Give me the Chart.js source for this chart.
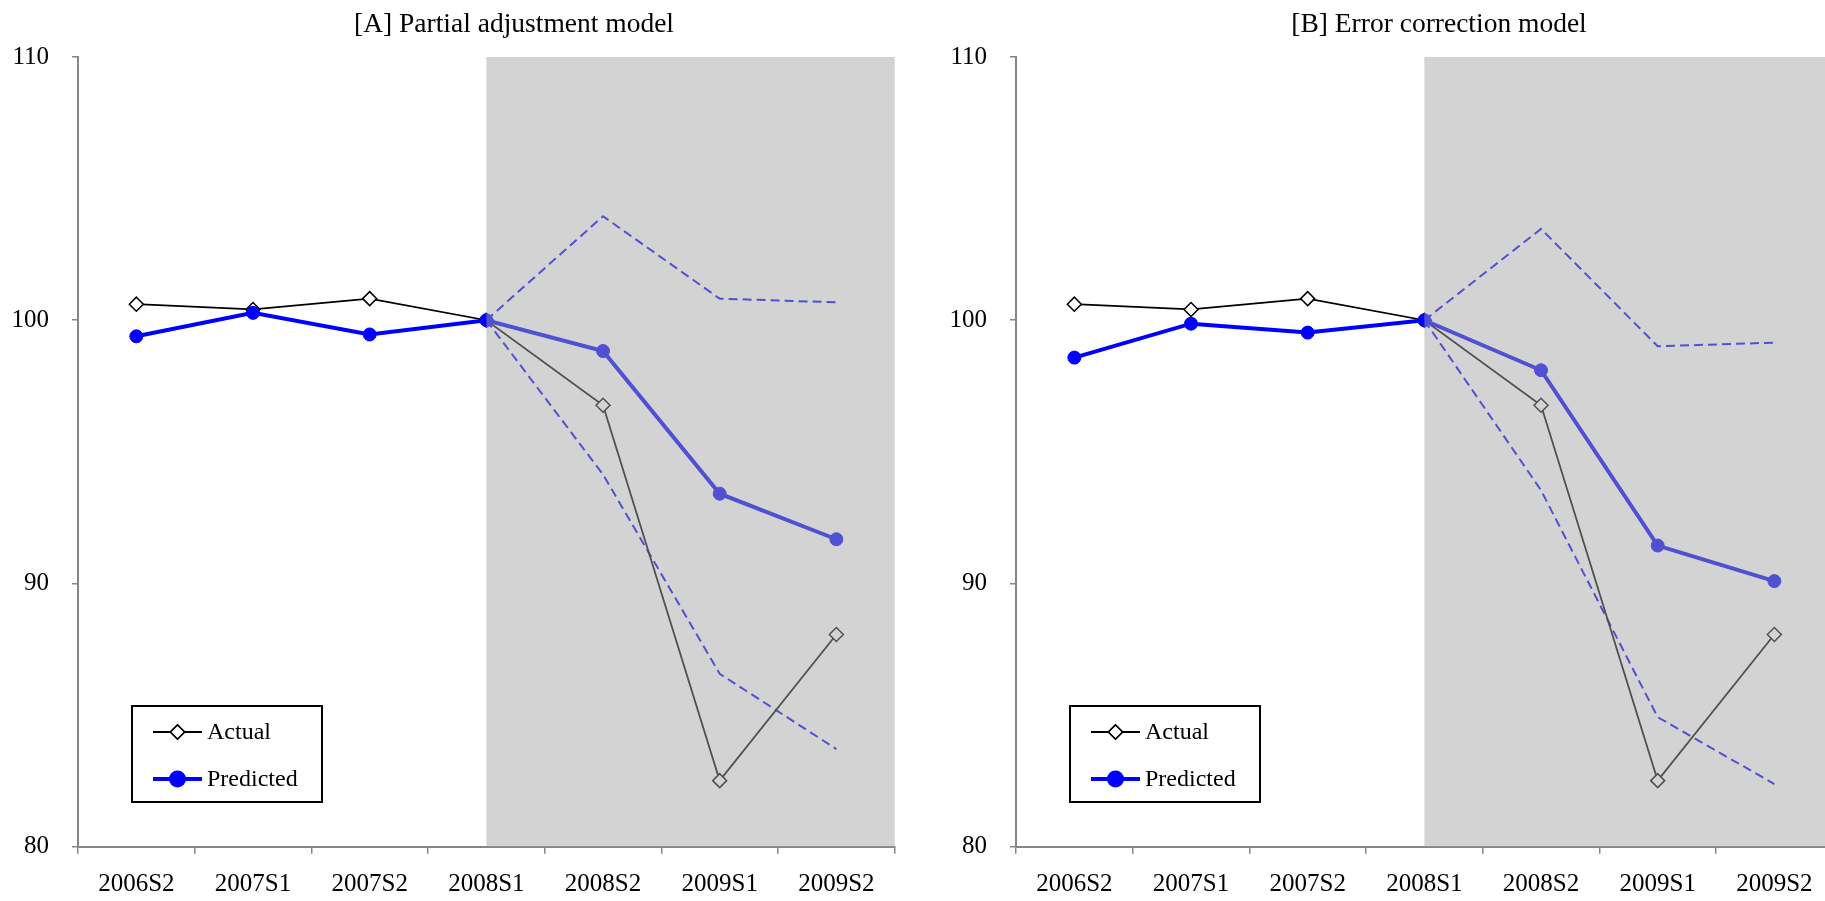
<!DOCTYPE html>
<html>
<head>
<meta charset="utf-8">
<script src="https://cdn.jsdelivr.net/npm/chart.js@4.4.0/dist/chart.umd.min.js"></script>
<style>
  html, body { margin: 0; padding: 0; background: #fff; }
  body { width: 1825px; height: 901px; position: relative; overflow: hidden; }
  canvas { position: absolute; top: 0; }
</style>
</head>
<body>
<canvas id="panelA" width="1028" height="901" style="left:0px"></canvas>
<canvas id="panelB" width="1002" height="901" style="left:938px"></canvas>
<script>
// semesters on the x axis
var semestres = ['2006S2', '2007S1', '2007S2', '2008S1', '2008S2', '2009S1', '2009S2'];
var inicioSombra = '2008S1';

// actual series (same in both panels)
var actual = [100.61, 100.41, 100.82, 100.0, 96.77, 82.51, 88.06];

// [A] partial adjustment model
var predA  = [99.39, 100.28, 99.46, 100.0, 98.83, 93.41, 91.68];
var altaA  = [null, null, null, 100.0, 103.95, 100.82, 100.68];
var bajaA  = [null, null, null, 100.0, 94.14, 86.57, 83.71];

// [B] error correction model
var predB  = [98.58, 99.87, 99.53, 100.0, 98.10, 91.44, 90.09];
var altaB  = [null, null, null, 100.0, 103.47, 99.01, 99.15];
var bajaB  = [null, null, null, 100.0, 93.54, 84.92, 82.38];

var yTicks = [80, 90, 100, 110];

Chart.defaults.font.family = '"Liberation Serif", "Times New Roman", serif';
Chart.defaults.font.size = 25;
Chart.defaults.color = '#000';

// gray translucent box over the forecast period
var sombra = {
    id: 'sombra',
    afterDatasetsDraw: function (chart) {
        var ctx = chart.ctx, area = chart.chartArea;
        var x0 = chart.scales.x.getPixelForValue(semestres.indexOf(inicioSombra));
        ctx.save();
        ctx.fillStyle = 'rgba(165,165,165,0.486)';
        ctx.fillRect(x0, area.top, area.right - x0, area.bottom - area.top);
        ctx.restore();
    }
};

// boxed legend in the lower left corner
var leyenda = {
    id: 'leyenda',
    afterDraw: function (chart) {
        var ctx = chart.ctx;
        ctx.save();
        ctx.fillStyle = '#fff';
        ctx.fillRect(132, 706, 190, 96);
        ctx.strokeStyle = '#000';
        ctx.lineWidth = 2;
        ctx.strokeRect(132, 706, 190, 96);

        var items = chart.data.datasets.filter(function (d) { return d.enLeyenda; });
        items.sort(function (a, b) { return a.enLeyenda - b.enLeyenda; });
        items.forEach(function (d, i) {
            var y = 732 + i * 47;
            ctx.strokeStyle = d.borderColor;
            ctx.lineWidth = d.borderWidth;
            ctx.beginPath();
            ctx.moveTo(153, y);
            ctx.lineTo(202, y);
            ctx.stroke();
            Chart.helpers.drawPoint(ctx, {
                pointStyle: d.pointStyle,
                radius: d.pointRadius,
                rotation: 0,
                borderWidth: d.pointBorderWidth
            }, 177.5, y);
            ctx.fillStyle = d.pointBackgroundColor;
            ctx.strokeStyle = d.pointBorderColor;
            ctx.lineWidth = d.pointBorderWidth;
            ctx.fill();
            ctx.stroke();
            ctx.fillStyle = '#000';
            ctx.font = '24px "Liberation Serif", serif';
            ctx.textBaseline = 'middle';
            ctx.fillText(d.label, 207, y + 1);
        });
        ctx.restore();
    }
};

function crearPanel(id, titulo, pred, alta, baja, margenDer) {
    var ctx = document.getElementById(id).getContext('2d');
    return new Chart(ctx, {
        type: 'line',
        data: {
            labels: semestres,
            datasets: [{
                label: 'Predicted',
                enLeyenda: 2,
                data: pred,
                borderColor: '#0000ff',
                borderWidth: 4,
                pointStyle: 'circle',
                pointRadius: 6.5,
                pointBorderWidth: 1,
                pointBackgroundColor: '#0000ff',
                pointBorderColor: '#0000ff',
                tension: 0
            }, {
                label: 'Actual',
                enLeyenda: 1,
                data: actual,
                borderColor: '#000000',
                borderWidth: 1.8,
                pointStyle: 'rectRot',
                pointRadius: 7,
                pointBorderWidth: 1.5,
                pointBackgroundColor: '#ffffff',
                pointBorderColor: '#000000',
                tension: 0
            }, {
                label: 'Upper',
                data: alta,
                borderColor: '#0000ff',
                borderWidth: 2,
                borderDash: [9, 5],
                pointRadius: 0,
                tension: 0
            }, {
                label: 'Lower',
                data: baja,
                borderColor: '#0000ff',
                borderWidth: 2,
                borderDash: [9, 5],
                pointRadius: 0,
                tension: 0
            }]
        },
        options: {
            responsive: false,
            animation: false,
            layout: { padding: 0 },
            plugins: {
                legend: { display: false },
                tooltip: { enabled: false },
                title: {
                    display: true,
                    text: titulo,
                    color: '#000',
                    font: { size: 27.5, weight: 'normal' },
                    padding: { top: 8, bottom: 16 }
                }
            },
            scales: {
                x: {
                    offset: true,
                    grid: {
                        offset: true,
                        drawOnChartArea: false,
                        drawTicks: true,
                        tickLength: 7,
                        color: '#868686',
                        lineWidth: 1.5
                    },
                    border: { color: '#868686', width: 2 },
                    ticks: { padding: 16, color: '#000', maxRotation: 0, autoSkip: false },
                    afterFit: function (s) { s.height = 54.3; }
                },
                y: {
                    min: 80,
                    max: 110,
                    afterBuildTicks: function (s) {
                        s.ticks = yTicks.map(function (v) { return { value: v }; });
                    },
                    grid: {
                        drawOnChartArea: false,
                        drawTicks: true,
                        tickLength: 6,
                        color: '#868686',
                        lineWidth: 1.5
                    },
                    border: { color: '#868686', width: 2 },
                    ticks: { padding: 23, color: '#000' },
                    afterFit: function (s) { s.width = 78; }
                },
                // empty right axis, only keeps the blank margin on the right
                margen: {
                    position: 'right',
                    grid: { display: false },
                    border: { display: false },
                    ticks: { display: false },
                    afterFit: function (s) { s.width = margenDer; }
                }
            }
        },
        plugins: [sombra, leyenda]
    });
}

crearPanel('panelA', '[A] Partial adjustment model', predA, altaA, bajaA, 133.3);
crearPanel('panelB', '[B] Error correction model', predB, altaB, bajaB, 107.3);
</script>
</body>
</html>
